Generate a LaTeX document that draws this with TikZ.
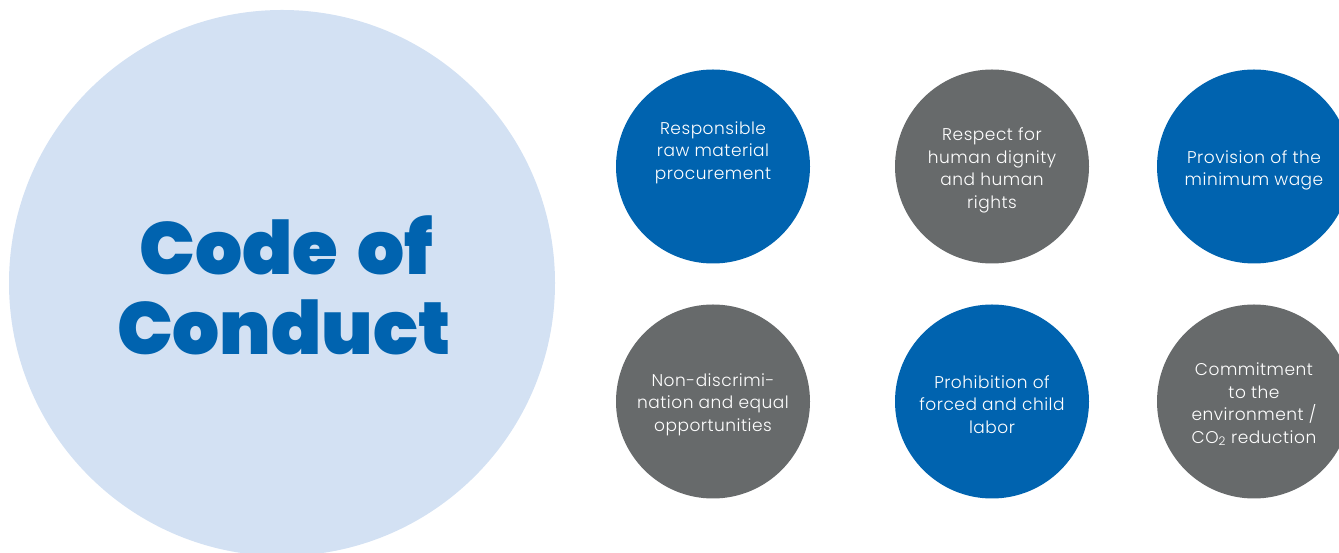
\documentclass[tikz,border=0pt]{standalone}
\usepackage{fontspec}
\setmainfont{Poppins}[UprightFont=* Light,LetterSpace=3]
\newfontfamily\headfont{Poppins}[UprightFont=* Black,WordSpace=1.5]
\usetikzlibrary{positioning}
\definecolor{cocblue}{RGB}{0,99,175}
\definecolor{cocgrey}{RGB}{103,106,107}
\definecolor{coclight}{RGB}{211,225,243}

\begin{document}
\begin{tikzpicture}[x=1pt,y=1pt,
  topic/.style={circle,minimum size=194pt,inner sep=0pt},
  topictext/.style={align=center,inner sep=0pt,text=white,
    font=\fontsize{17}{22.5}\selectfont},
  title/.style={anchor=base,text=cocblue,inner sep=0pt,
    font=\headfont\fontsize{74}{80}\selectfont}]
\useasboundingbox (0,0) rectangle (1339,553);
\clip (0,0) rectangle (1339,553);
% big circle and heading
\node[circle,fill=coclight,minimum size=546pt,inner sep=0pt] (coc) at (282,270) {};
\node[title] (title1) at (286,278) {Code of};
\node[title] (title2) at (284,198) {Conduct};
% first row
\node[topic,fill=cocblue] (raw) at (713,386.5) {};
\node[topic,fill=cocgrey] (dignity) at (992,386.5) {};
\node[topic,fill=cocblue] (wage) at (1254,386.5) {};
\node[topictext] (rawtext) at ([yshift=14pt]raw.center) {Responsible\\raw material\\procurement};
\node[topictext] (dignitytext) at ([yshift=-4pt]dignity.center) {Respect for\\human dignity\\and human\\rights};
\node[topictext] (wagetext) at ([yshift=-4pt]wage.center) {Provision of the\\minimum wage};
% second row
\node[topic,fill=cocgrey] (equal) at (713,151.5) {};
\node[topic,fill=cocblue] (labor) at (992,151.5) {};
\node[topic,fill=cocgrey] (env) at (1254,151.5) {};
\node[topictext] (equaltext) at ([yshift=-3pt]equal.center) {Non-discrimi-\\nation and equal\\opportunities};
\node[topictext] (labortext) at ([yshift=-3pt]labor.center) {Prohibition of\\forced and child\\labor};
\node[topictext] (envtext) at ([yshift=-3pt]env.center) {Commitment\\to the\\environment /\\CO\textsubscript{2} reduction};
\end{tikzpicture}
\end{document}
